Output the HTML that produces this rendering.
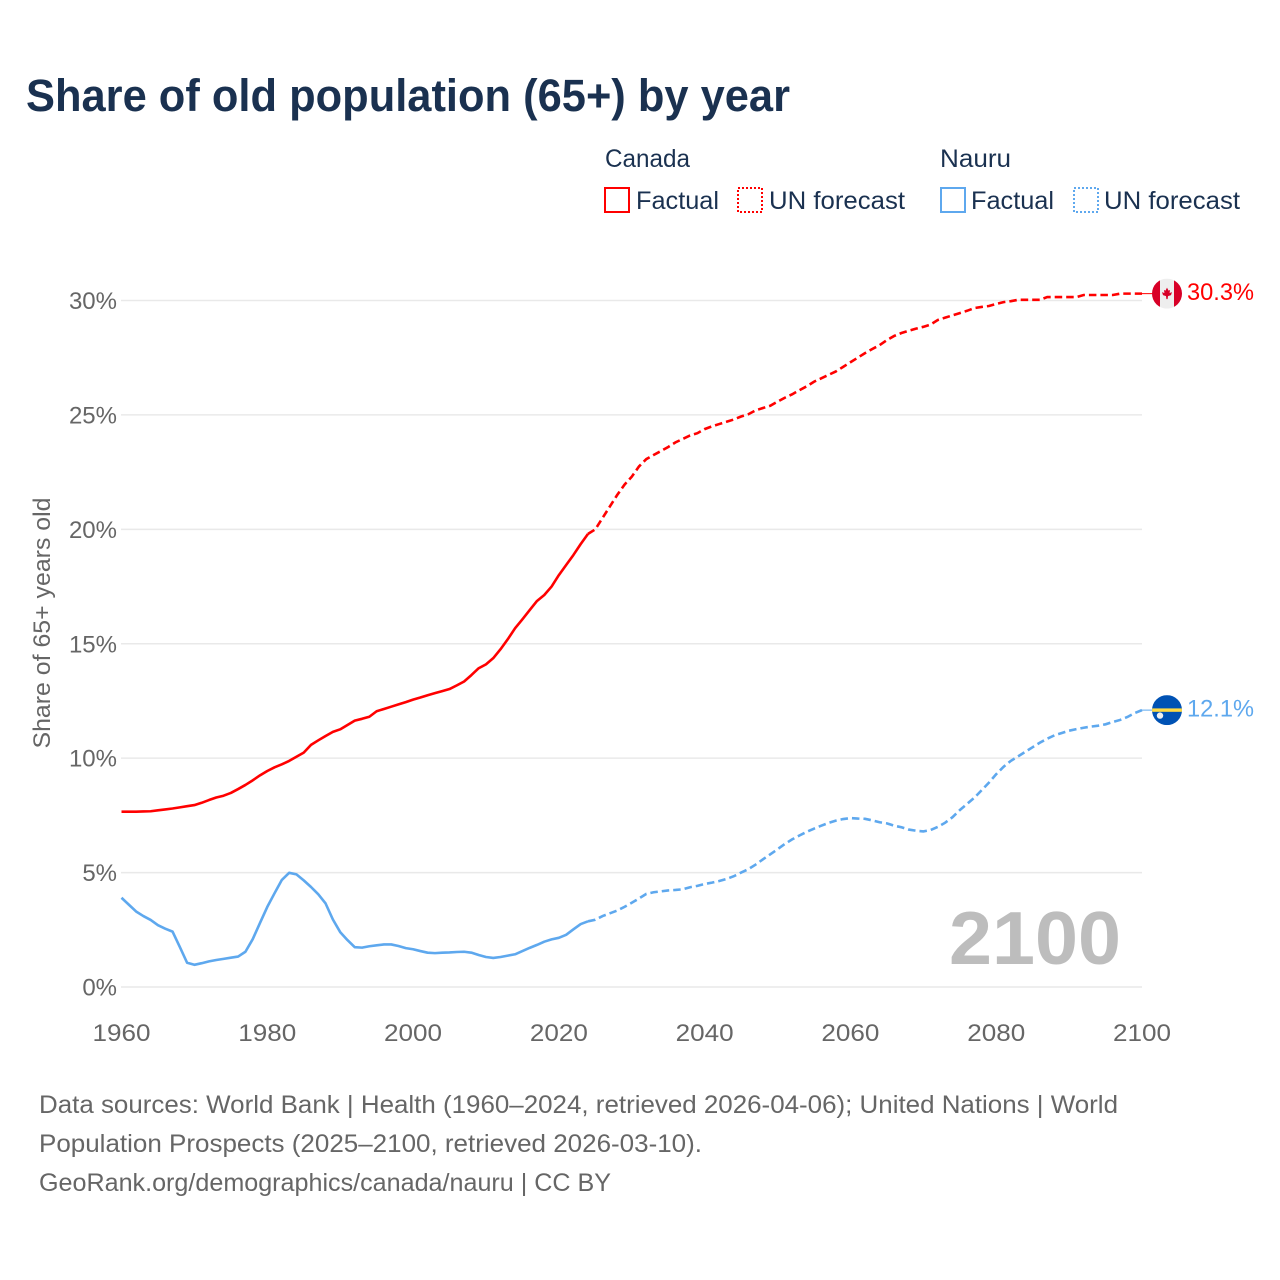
<!DOCTYPE html>
<html lang="en">
<head>
<meta charset="utf-8">
<title>Share of old population (65+) by year</title>
<style>
html,body{margin:0;padding:0;background:#fff;width:1280px;height:1280px;overflow:hidden}
svg{display:block}
text{font-family:"Liberation Sans",sans-serif}
</style>
</head>
<body>
<svg id="chart" xmlns="http://www.w3.org/2000/svg" width="1280" height="1280" viewBox="0 0 1280 1280">
  <defs>
    <clipPath id="flag-clip"><circle cx="0" cy="0" r="15"></circle></clipPath>
  </defs>
  <rect x="0" y="0" width="1280" height="1280" fill="#ffffff"></rect>
  <text x="26" y="111" font-size="45" font-weight="700" fill="#1a3150" textLength="764" lengthAdjust="spacingAndGlyphs">Share of old population (65+) by year</text>

  <g font-size="25" fill="#1a3150">
    <text x="605" y="167" textLength="85" lengthAdjust="spacingAndGlyphs">Canada</text>
    <text x="940" y="167" textLength="71" lengthAdjust="spacingAndGlyphs">Nauru</text>
    <rect x="605" y="188" width="24" height="24" fill="none" stroke="#ff0000" stroke-width="2"></rect>
    <text x="636" y="209" textLength="83" lengthAdjust="spacingAndGlyphs">Factual</text>
    <rect x="738" y="188" width="24" height="24" fill="none" stroke="#ff0000" stroke-width="2" stroke-dasharray="2 2"></rect>
    <text x="769" y="209" textLength="136" lengthAdjust="spacingAndGlyphs">UN forecast</text>
    <rect x="941" y="188" width="24" height="24" fill="none" stroke="#5ea8ee" stroke-width="2"></rect>
    <text x="971" y="209" textLength="83" lengthAdjust="spacingAndGlyphs">Factual</text>
    <rect x="1074" y="188" width="24" height="24" fill="none" stroke="#5ea8ee" stroke-width="2" stroke-dasharray="2 2"></rect>
    <text x="1104" y="209" textLength="136" lengthAdjust="spacingAndGlyphs">UN forecast</text>
  </g>

  <g id="grid"></g>
  <g id="y-ticks"></g>
  <g id="x-ticks"></g>
  <text transform="translate(50 623) rotate(-90)" text-anchor="middle" font-size="24" fill="#666666" textLength="251" lengthAdjust="spacingAndGlyphs">Share of 65+ years old</text>
  <text x="949" y="964" font-size="75" font-weight="700" fill="#bdbdbd" textLength="172" lengthAdjust="spacingAndGlyphs">2100</text>
  <g id="series"></g>
  <g id="end-markers"></g>

  <g font-size="25" fill="#666666">
    <text x="39" y="1113" textLength="1079" lengthAdjust="spacingAndGlyphs">Data sources: World Bank | Health (1960–2024, retrieved 2026-04-06); United Nations | World</text>
    <text x="39" y="1152" textLength="663" lengthAdjust="spacingAndGlyphs">Population Prospects (2025–2100, retrieved 2026-03-10).</text>
    <text x="39" y="1191" textLength="572" lengthAdjust="spacingAndGlyphs">GeoRank.org/demographics/canada/nauru | CC BY</text>
  </g>
</svg>
<script>
const xTickYears = [1960, 1980, 2000, 2020, 2040, 2060, 2080, 2100];
const yTickValues = [0, 5, 10, 15, 20, 25, 30];
const factualStartYear = 1960;
const forecastStartYear = 2025;
const canadaFactual = [
  7.66,7.66,7.66,7.67,7.68,7.72,7.76,7.80,7.85,7.90,
  7.95,8.05,8.17,8.28,8.36,8.48,8.65,8.83,9.03,9.25,
  9.44,9.60,9.73,9.88,10.06,10.24,10.58,10.78,10.97,11.15,
  11.26,11.45,11.64,11.72,11.81,12.05,12.15,12.25,12.35,12.45,
  12.56,12.65,12.75,12.84,12.93,13.02,13.18,13.35,13.63,13.93,
  14.10,14.37,14.76,15.20,15.68,16.07,16.47,16.87,17.13,17.50,
  18.00,18.44,18.88,19.36,19.80
];
const canadaForecast = [
  20.00,20.50,21.00,21.50,21.95,22.30,22.75,23.07,23.25,23.42,
  23.60,23.80,23.95,24.10,24.20,24.38,24.50,24.60,24.70,24.80,
  24.93,25.03,25.20,25.30,25.40,25.58,25.75,25.90,26.08,26.25,
  26.45,26.60,26.75,26.90,27.10,27.30,27.50,27.70,27.88,28.05,
  28.27,28.45,28.58,28.68,28.77,28.85,28.95,29.15,29.25,29.35,
  29.45,29.55,29.67,29.72,29.76,29.85,29.93,29.97,30.03,30.03,
  30.03,30.03,30.15,30.15,30.15,30.15,30.15,30.24,30.24,30.24,
  30.24,30.24,30.30,30.30,30.30,30.30
];
const nauruFactual = [
  3.90,3.60,3.30,3.10,2.93,2.70,2.55,2.42,1.75,1.06,
  0.97,1.04,1.12,1.18,1.23,1.28,1.33,1.54,2.09,2.80,
  3.50,4.10,4.68,4.99,4.92,4.66,4.37,4.05,3.65,2.95,
  2.40,2.05,1.74,1.72,1.78,1.82,1.86,1.86,1.79,1.70,
  1.65,1.57,1.50,1.48,1.50,1.51,1.53,1.54,1.50,1.40,
  1.31,1.27,1.31,1.37,1.43,1.57,1.71,1.84,1.98,2.08,
  2.15,2.28,2.52,2.75,2.87
];
const nauruForecast = [
  2.94,3.10,3.22,3.34,3.50,3.68,3.87,4.07,4.14,4.18,
  4.22,4.24,4.27,4.36,4.42,4.50,4.56,4.63,4.72,4.84,
  5.00,5.15,5.35,5.58,5.80,6.02,6.25,6.45,6.62,6.78,
  6.92,7.05,7.17,7.27,7.34,7.38,7.36,7.35,7.28,7.20,
  7.15,7.05,6.98,6.88,6.83,6.80,6.86,7.00,7.18,7.42,
  7.73,8.00,8.27,8.60,8.93,9.30,9.62,9.88,10.08,10.28,
  10.48,10.68,10.85,11.00,11.10,11.20,11.27,11.33,11.38,11.42,
  11.48,11.58,11.67,11.80,11.97,12.10
];

const SVGNS = 'http://www.w3.org/2000/svg';
const xAxis = function (year) { return 121.5 + (year - 1960) * (1142 - 121.5) / 140; };
const yAxis = function (value) { return 987 - value * (987 - 300.5) / 30; };
const linePath = function (startYear, values) {
  return values.map(function (v, i) {
    return (i ? 'L' : 'M') + xAxis(startYear + i).toFixed(2) + ' ' + yAxis(v).toFixed(2);
  }).join(' ');
};
const gridGroup = document.getElementById('grid');
const yTickGroup = document.getElementById('y-ticks');
const xTickGroup = document.getElementById('x-ticks');
const seriesGroup = document.getElementById('series');
const markerGroup = document.getElementById('end-markers');

yTickValues.forEach(function (v) {
  const grid = document.createElementNS(SVGNS, 'line');
  
  
  grid.setAttribute('x1', 121);
  grid.setAttribute('x2', 1142);
  grid.setAttribute('y1', yAxis(v));
  grid.setAttribute('y2', yAxis(v));
  grid.setAttribute('stroke', '#e9e9e9');
  grid.setAttribute('stroke-width', 1.5);
  gridGroup.appendChild(grid);

  const label = document.createElementNS(SVGNS, 'text');
  
  
  label.setAttribute('x', 117);
  label.setAttribute('y', yAxis(v) + 8.5);
  label.setAttribute('text-anchor', 'end');
  label.setAttribute('font-size', 24);
  label.setAttribute('fill', '#666666');
  label.textContent = v + '%';
  yTickGroup.appendChild(label);
});

xTickYears.forEach(function (year) {
  const label = document.createElementNS(SVGNS, 'text');
  
  
  label.setAttribute('x', xAxis(year));
  label.setAttribute('y', 1041);
  label.setAttribute('text-anchor', 'middle');
  label.setAttribute('font-size', 24);
  label.setAttribute('fill', '#666666');
  label.setAttribute('textLength', 58);
  label.setAttribute('lengthAdjust', 'spacingAndGlyphs');
  label.textContent = year;
  xTickGroup.appendChild(label);
});

function drawSeries(key, color, factual, forecast) {
  const solid = document.createElementNS(SVGNS, 'path');
  
  
  solid.setAttribute('d', linePath(factualStartYear, factual));
  solid.setAttribute('fill', 'none');
  solid.setAttribute('stroke', color);
  solid.setAttribute('stroke-width', 2.6);
  solid.setAttribute('stroke-linejoin', 'round');
  seriesGroup.appendChild(solid);

  const lastYear = factualStartYear + factual.length - 1;
  const joined = [factual[factual.length - 1]].concat(forecast);
  const dashed = document.createElementNS(SVGNS, 'path');
  
  
  dashed.setAttribute('d', linePath(lastYear, joined));
  dashed.setAttribute('fill', 'none');
  dashed.setAttribute('stroke', color);
  dashed.setAttribute('stroke-width', 2.6);
  dashed.setAttribute('stroke-dasharray', '7.5 4');
  seriesGroup.appendChild(dashed);

  const endValue = forecast[forecast.length - 1];
  const connector = document.createElementNS(SVGNS, 'line');
  
  
  connector.setAttribute('x1', xAxis(2100));
  connector.setAttribute('x2', xAxis(2100) + 11);
  connector.setAttribute('y1', yAxis(endValue));
  connector.setAttribute('y2', yAxis(endValue));
  connector.setAttribute('stroke', color);
  connector.setAttribute('stroke-width', 1);
  seriesGroup.appendChild(connector);

  const value = document.createElementNS(SVGNS, 'text');
  
  
  value.setAttribute('x', 1187);
  value.setAttribute('y', yAxis(endValue) + 6.5);
  value.setAttribute('font-size', 24);
  value.setAttribute('fill', color);
  value.setAttribute('textLength', 67);
  value.setAttribute('lengthAdjust', 'spacingAndGlyphs');
  value.textContent = endValue.toFixed(1) + '%';
  markerGroup.appendChild(value);

  const flag = document.createElementNS(SVGNS, 'g');
  
  
  flag.setAttribute('transform', 'translate(1167 ' + yAxis(endValue) + ')');
  flag.setAttribute('clip-path', 'url(#flag-clip)');
  markerGroup.appendChild(flag);
  return flag;
}

function addShape(parent, tag, attrs) {
  const el = document.createElementNS(SVGNS, tag);
  Object.keys(attrs).forEach(function (k) { el.setAttribute(k, attrs[k]); });
  parent.appendChild(el);
  return el;
}

const canadaFlag = drawSeries('canada', '#ff0000', canadaFactual, canadaForecast);
addShape(canadaFlag, 'rect', {x: -15, y: -15, width: 30, height: 30, fill: '#eeeeee'});
addShape(canadaFlag, 'rect', {x: -15, y: -15, width: 8, height: 30, fill: '#d80027'});
addShape(canadaFlag, 'rect', {x: 7, y: -15, width: 8, height: 30, fill: '#d80027'});
addShape(canadaFlag, 'polygon', {points: '0,-6 1.5,-3 3,-3.6 2.6,-0.5 5,-1.5 4,1.5 1,2.5 0.6,5.5 -0.6,5.5 -1,2.5 -4,1.5 -5,-1.5 -2.6,-0.5 -3,-3.6 -1.5,-3', fill: '#d80027'});

const nauruFlag = drawSeries('nauru', '#5ea8ee', nauruFactual, nauruForecast);
addShape(nauruFlag, 'rect', {x: -15, y: -15, width: 30, height: 30, fill: '#0052b4'});
addShape(nauruFlag, 'rect', {x: -15, y: -1.7, width: 30, height: 3.4, fill: '#ffda44'});
addShape(nauruFlag, 'circle', {cx: -7, cy: 5.5, r: 3.2, fill: '#f0f0f0'});
</script>
</body>
</html>
